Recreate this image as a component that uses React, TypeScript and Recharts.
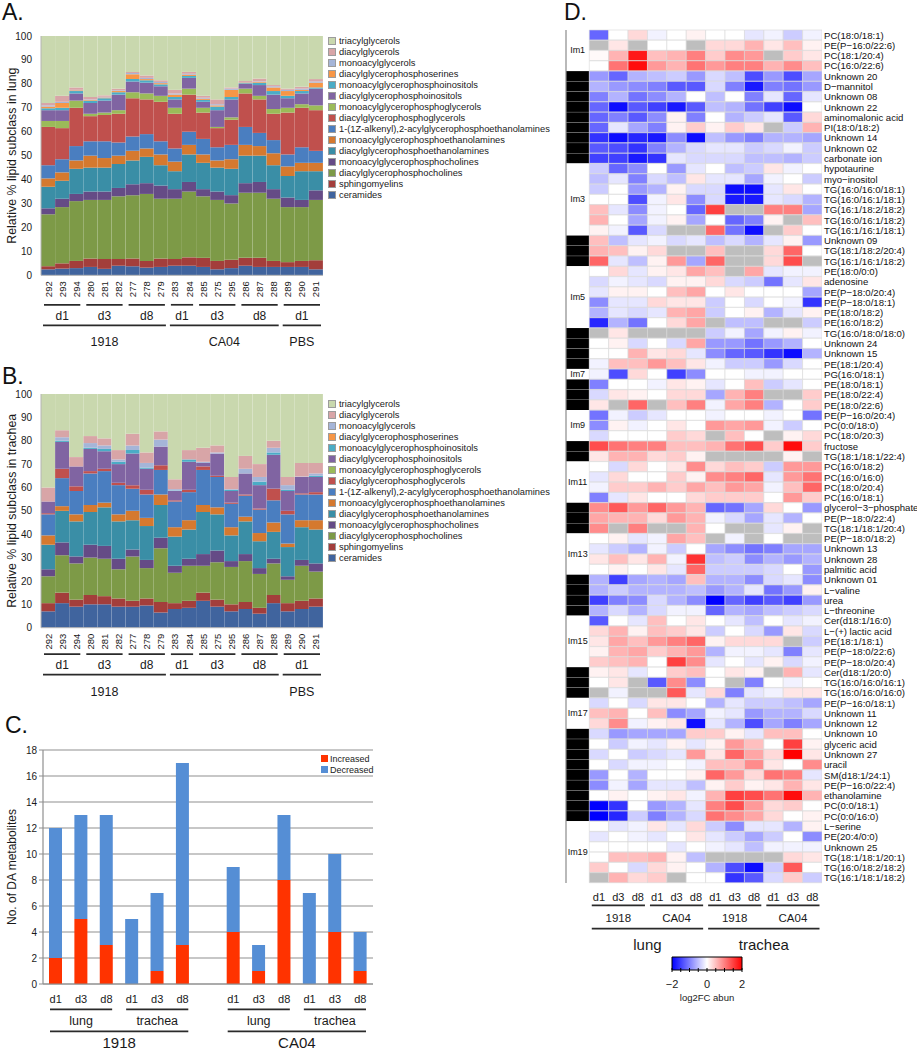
import React from 'react';
import { BarChart, Bar, XAxis, YAxis, CartesianGrid, Legend, Cell, LabelList, ReferenceLine, Label } from 'recharts';

const FONT = '"Liberation Sans", Arial, Helvetica, sans-serif';
const INK = '#1a1a1a';
const N = null;

// ---------- A / B : lipid subclass composition ----------
const samples = ['292', '293', '294', '280', '281', '282', '277', '278', '279', '283', '284', '285', '275', '295', '286', '287', '288', '289', '290', '291'];
const dayGroups = [
  { label: 'd1', from: 0, to: 3 }, { label: 'd3', from: 3, to: 6 }, { label: 'd8', from: 6, to: 9 },
  { label: 'd1', from: 9, to: 11 }, { label: 'd3', from: 11, to: 14 }, { label: 'd8', from: 14, to: 17 },
  { label: 'd1', from: 17, to: 20 },
];
const strainGroupsLung = [{ label: '1918', from: 0, to: 9 }, { label: 'CA04', from: 9, to: 17 }, { label: 'PBS', from: 17, to: 20 }];
const strainGroupsTrachea = [{ label: '1918', from: 0, to: 9 }, { label: '', from: 9, to: 17 }, { label: 'PBS', from: 17, to: 20 }];

// stacked bottom-up
const subclassNames = [
  'ceramides', 'sphingomyelins', 'diacylglycerophosphocholines', 'monoacylglycerophosphocholines',
  'diacylglycerophosphoethanolamines', 'monoacylglycerophosphoethanolamines',
  '1-(1Z-alkenyl),2-acylglycerophosphoethanolamines', 'diacylglycerophosphoglycerols',
  'monoacylglycerophosphoglycerols', 'diacylglycerophosphoinositols', 'monoacylglycerophosphoinositols',
  'diacylglycerophosphoserines', 'monoacylglycerols', 'diacylglycerols', 'triacylglycerols',
];
const subclassColors = [
  '#40649e', '#a33e3b', '#7d9a47', '#654b86', '#3a8ea6', '#d5792f', '#4a7ec0', '#c0504d',
  '#9bbb59', '#8064a2', '#4bacc6', '#f79646', '#a5b5d8', '#d8a5a7', '#c9d8ae',
];

const lungCER = [2.5, 2.8, 3, 3.5, 2.7, 4, 3.8, 3.2, 3.5, 4, 4, 3.5, 2.5, 3, 4, 3.5, 3.5, 3.5, 3.5, 2.5];
const lungSM = [1.3, 2.2, 3, 3.5, 4.1, 2.8, 3.2, 2.8, 3.5, 2.8, 3.5, 3.8, 3.5, 3.5, 3.3, 3.8, 2.5, 2, 2.5, 3.8];
const lungPC = [21.7, 23.5, 25, 24.5, 24.7, 26.2, 26.5, 28, 25, 25.2, 27.5, 25.7, 25.5, 23.5, 27.2, 27.2, 26, 23, 22.5, 25.2];
const lungLPC = [2.5, 3.5, 3, 3.5, 3.5, 3.5, 4.5, 4.5, 5.5, 4, 4, 3, 3.5, 3.5, 4, 4.5, 4, 4, 3, 4];
const lungPE = [9, 7.5, 10.5, 10, 10, 10, 10, 11, 8.5, 7.5, 11.5, 11, 10, 11, 11.5, 11, 10, 9, 12, 8];
const lungLPE = [3.5, 3.5, 3.5, 5, 4, 3.5, 4, 3.5, 4.5, 4, 4, 3.5, 3, 4, 4.5, 4, 5, 4, 3.5, 3.5];
const lungPEP = [5.5, 5.5, 6, 6, 7, 5.5, 6, 6, 5.5, 5.5, 5.5, 6.5, 5.5, 6, 7.5, 5.5, 5.5, 5, 6.5, 5];
const lungPG = [16, 13, 16, 10.5, 11, 12, 16, 14.5, 16.5, 14.5, 15.5, 11, 8, 10.5, 14, 14, 11, 17.5, 16.5, 17];
const lungLPG = [2.5, 3, 3, 1, 1, 1.5, 2.5, 2.5, 2.5, 2.5, 2.5, 2, 0.5, 1, 2, 1.5, 2, 2, 1.5, 2];
const lungPI = [4.5, 4.5, 3, 4.5, 5, 6.5, 4.5, 4.5, 4, 3.5, 4.5, 2.5, 7, 7.5, 2, 4.5, 6, 4, 4.5, 7];
const lungLPI = [0.8, 1, 1, 1, 1, 1, 1, 1, 0.8, 1, 0.8, 0.8, 1.5, 1, 0.3, 1, 1.5, 1, 1, 0.5];
const lungPS = [0.7, 2, 0.3, 0.3, 0.3, 0.5, 2, 0.5, 0.5, 1, 0.5, 0.5, 0.5, 3, 0.3, 0.3, 1.5, 2, 0.5, 2];
const lungMG = [0.5, 0.5, 0.2, 0.2, 0.3, 0.3, 0.5, 0.5, 0.5, 0.5, 0.4, 0.4, 0.5, 0.5, 0.2, 0.2, 0.5, 0.5, 0.5, 0.5];
const lungDG = [1, 2.5, 1, 1, 0.6, 0.7, 0.5, 1, 0.7, 1.5, 0.8, 0.8, 2, 0.5, 0.4, 1.2, 0.5, 0.5, 0.8, 1];
const lungTG = [28, 25, 21.5, 25.5, 24.8, 22, 15, 16.5, 18.5, 22.5, 15, 25, 26.5, 21.5, 18.8, 17.8, 20.5, 22, 21.2, 18];

const trCER = [7, 10.5, 9, 10, 10, 9, 9, 9.5, 6.5, 8, 8.5, 11.5, 9, 7, 8, 6, 10.5, 7, 8, 9];
const trSM = [3.5, 4.5, 3, 4, 3.5, 3.5, 2.5, 3, 4.5, 2.5, 3, 3.5, 3, 3, 3, 2.5, 3.5, 3.5, 3.5, 3.5];
const trPC = [11.5, 16, 15.5, 16, 16, 12.5, 19, 13, 23, 13, 15, 11.5, 16, 16, 17.5, 14.5, 13.5, 10, 15, 11.5];
const trLPC = [3, 5.5, 3, 5.5, 5.5, 4.5, 3, 3.5, 4.5, 3, 3, 5, 5, 2.5, 3, 2.5, 2, 1.5, 2.5, 3.5];
const trPE = [10.5, 13.5, 15, 14, 16.5, 16, 12.5, 14.5, 14, 12.5, 12.5, 18, 15.5, 11, 14, 11.5, 11.5, 12.5, 14, 14.5];
const trLPE = [4, 2, 3, 3, 2, 3, 4, 3.5, 4.5, 4, 4, 3, 3, 3.5, 2, 3.5, 4, 1.5, 3, 4];
const trPEP = [9, 12, 10, 13.5, 13.5, 12.5, 9.5, 10, 10.5, 11, 12, 15, 13, 10, 9, 10, 9.5, 12.5, 11, 11];
const trPG = [0.5, 4, 2, 1, 1, 1, 1.5, 2, 2, 0.5, 1, 1.5, 0.5, 0.5, 0.5, 0.5, 5, 1.5, 0.5, 1];
const trLPG = [0, 0, 0, 0, 0, 0, 0, 0, 0, 0, 0, 0, 0, 0, 0, 0, 0, 0, 0, 0];
const trPI = [5, 11.5, 8.5, 9.5, 7.5, 8, 13.5, 9, 8, 4, 12, 1.5, 9.5, 5, 9, 10, 14.5, 8.5, 7, 6.5];
const trLPI = [0, 0.5, 0, 0.5, 1, 1, 1.5, 0.5, 0, 0.2, 1, 0, 0, 0.5, 0, 1.5, 1, 0.5, 0, 0.5];
const trPS = [0, 0, 0, 0, 0, 0, 0, 0, 0, 0, 0, 0, 0, 0, 0, 0, 0, 0, 0, 0];
const trMG = [0, 1.5, 0, 2, 1.5, 1, 2, 2, 3, 0.6, 0, 0.5, 0.5, 0.3, 2, 2, 2, 2, 0.2, 1];
const trDG = [6, 3, 4, 3, 3, 4, 5, 4.5, 3.5, 4.2, 4, 6, 3, 5.2, 5.5, 5.5, 3, 3.5, 5.8, 4.5];
const trTG = [40, 15.5, 27, 18, 19, 24, 17, 25, 16, 36.5, 24, 23, 22, 35.5, 26.5, 30, 20, 35.5, 29.5, 29.5];

const lungSeries = [lungCER, lungSM, lungPC, lungLPC, lungPE, lungLPE, lungPEP, lungPG, lungLPG, lungPI, lungLPI, lungPS, lungMG, lungDG, lungTG];
const tracheaSeries = [trCER, trSM, trPC, trLPC, trPE, trLPE, trPEP, trPG, trLPG, trPI, trLPI, trPS, trMG, trDG, trTG];
const pctTicks = [0, 10, 20, 30, 40, 50, 60, 70, 80, 90, 100];

// ---------- C : number of DA metabolites ----------
const cIds = ['l18d1', 'l18d3', 'l18d8', 't18d1', 't18d3', 't18d8', 'gap', 'lcad1', 'lcad3', 'lcad8', 'tcad1', 'tcad3', 'tcad8'];
const cDays = ['d1', 'd3', 'd8', 'd1', 'd3', 'd8', '', 'd1', 'd3', 'd8', 'd1', 'd3', 'd8'];
const increased = [2, 5, 3, 0, 1, 3, null, 4, 1, 8, 0, 4, 1];
const decreased = [10, 8, 10, 5, 6, 14, null, 5, 2, 5, 7, 6, 3];
const cTissue = [{ label: 'lung', from: 0, to: 3 }, { label: 'trachea', from: 3, to: 6 }, { label: 'lung', from: 7, to: 10 }, { label: 'trachea', from: 10, to: 13 }];
const cStrain = [{ label: '1918', from: 0, to: 6 }, { label: 'CA04', from: 7, to: 13 }];
const countTicks = [0, 2, 4, 6, 8, 10, 12, 14, 16, 18];

// ---------- D : heatmap of log2FC ----------
const hmDays = ['d1', 'd3', 'd8', 'd1', 'd3', 'd8', 'd1', 'd3', 'd8', 'd1', 'd3', 'd8'];
const hmStrain = [{ label: '1918', from: 0, to: 3 }, { label: 'CA04', from: 3, to: 6 }, { label: '1918', from: 6, to: 9 }, { label: 'CA04', from: 9, to: 12 }];
const hmTissue = [{ label: 'lung', from: 0, to: 6 }, { label: 'trachea', from: 6, to: 12 }];
const moduleSizes = [4, 9, 7, 3, 6, 4, 1, 3, 3, 2, 4, 3, 4, 4, 5, 3, 3, 9, 6];
const moduleLabels = ['Im1', '', 'Im3', '', 'Im5', '', 'Im7', '', 'Im9', '', 'Im11', '', 'Im13', '', 'Im15', '', 'Im17', '', 'Im19'];

const hmNames = [
  'PC(18:0/18:1)', 'PE(P\u221216:0/22:6)', 'PC(18:1/20:4)', 'PC(16:0/22:6)',
  'Unknown 20', 'D\u2212mannitol', 'Unknown 08', 'Unknown 22', 'aminomalonic acid', 'PI(18:0/18:2)', 'Unknown 14', 'Unknown 02', 'carbonate ion',
  'hypotaurine', 'myo\u2212inositol', 'TG(16:0/16:0/18:1)', 'TG(16:0/16:1/18:1)', 'TG(16:1/18:2/18:2)', 'TG(16:0/16:1/18:2)', 'TG(16:1/16:1/18:1)',
  'Unknown 09', 'TG(18:1/18:2/20:4)', 'TG(16:1/16:1/18:2)',
  'PE(18:0/0:0)', 'adenosine', 'PE(P\u221218:0/20:4)', 'PE(P\u221218:0/18:1)', 'PE(18:0/18:2)', 'PE(16:0/18:2)',
  'TG(16:0/18:0/18:0)', 'Unknown 24', 'Unknown 15', 'PE(18:1/20:4)',
  'PG(16:0/18:1)',
  'PE(18:0/18:1)', 'PE(18:0/22:4)', 'PE(18:0/22:6)',
  'PE(P\u221216:0/20:4)', 'PC(0:0/18:0)', 'PC(18:0/20:3)',
  'fructose', 'TG(18:1/18:1/22:4)',
  'PC(16:0/18:2)', 'PC(16:0/16:0)', 'PC(18:0/20:4)', 'PC(16:0/18:1)',
  'glycerol\u22123\u2212phosphate', 'PE(P\u221218:0/22:4)', 'TG(18:1/18:1/20:4)',
  'PE(P\u221218:0/18:2)', 'Unknown 13', 'Unknown 28', 'palmitic acid',
  'Unknown 01', 'L\u2212valine', 'urea', 'L\u2212threonine',
  'Cer(d18:1/16:0)', 'L\u2212(+) lactic acid', 'PE(18:1/18:1)', 'PE(P\u221218:0/22:6)', 'PE(P\u221218:0/20:4)',
  'Cer(d18:1/20:0)', 'TG(16:0/16:0/16:1)', 'TG(16:0/16:0/16:0)',
  'PE(P\u221216:0/18:1)', 'Unknown 11', 'Unknown 12',
  'Unknown 10', 'glyceric acid', 'Unknown 27', 'uracil', 'SM(d18:1/24:1)', 'PE(P\u221216:0/22:4)', 'ethanolamine', 'PC(0:0/18:1)', 'PC(0:0/16:0)',
  'L\u2212serine', 'PE(20:4/0:0)', 'Unknown 25', 'TG(18:1/18:1/20:1)', 'TG(16:0/18:2/18:2)', 'TG(16:1/18:1/18:2)',
];

// columns: lung 1918 d1 d3 d8, lung CA04 d1 d3 d8, trachea 1918 d1 d3 d8, trachea CA04 d1 d3 d8
const hmValues = [
  [-1.2, 0, 0.3, -0.1, 0, 0.1, 0, 0, -0.2, -0.1, -0.4, -0.1],
  [N, 0.2, N, 0, 0, N, 0.3, 0.3, 0.6, 0.2, 0.5, 0.1],
  [0.05, 0.6, 1.8, 0.5, 0.6, 1.0, 0.4, 0.9, 0.8, N, 0.4, 0.2],
  [0, 1.1, 1.9, 0.8, 0.6, 1.1, 0.8, 1.0, 1.0, 0.6, 0.9, 0.5],
  [-0.8, -1.2, -0.6, -0.5, -0.4, -0.8, -0.3, -0.5, -1.4, -0.8, -1.4, -0.7],
  [-0.6, -0.8, -0.9, -1.0, -1.3, -1.3, -0.3, -1.0, -1.8, -1.0, -1.1, -0.8],
  [-1.0, -0.6, -1.1, -0.9, -0.6, 0, -0.5, 0, -1.0, -0.2, -1.2, -0.2],
  [-1.2, -1.9, -1.3, -1.5, -1.8, -1.3, -0.5, -0.6, -1.1, -1.5, -1.9, 0],
  [-1.2, -1.0, -1.3, -0.9, 0.1, -1.0, 0, -0.6, -0.4, -0.2, -1.3, 0.3],
  [-1.2, -0.2, -0.7, -1.0, 0.1, 0.4, 0.1, 0.4, 0.2, N, -0.4, 0.6],
  [-1.6, -1.9, -1.7, -1.8, -0.9, -1.9, -0.5, -0.8, -1.0, -0.6, -0.6, -0.7],
  [-1.3, -1.4, -1.6, -1.0, -0.6, -0.3, -0.2, -0.2, -0.4, -0.3, -0.1, -0.4],
  [-1.5, -1.5, -1.8, -1.6, -0.2, -0.3, -0.3, -0.3, -0.5, -0.5, -0.6, -0.4],
  [-0.4, -1.2, -0.9, 0, -0.8, -0.2, 0, -0.5, -0.4, 0.2, -0.1, 0],
  [-0.5, -0.2, -1.0, -0.3, -0.5, 0.2, -0.2, -0.2, -0.7, -0.1, 0, -0.4],
  [-0.4, 0, -0.8, -0.6, 0.1, -0.3, -0.3, -1.9, -1.9, -0.2, 0.2, 0],
  [0, 0, -1.4, -0.1, 0.2, -0.9, -0.3, -1.8, -1.8, -0.2, -0.3, -0.6],
  [0.5, -0.2, -0.9, -0.1, 0, -1.2, 1.5, N, N, 1.0, 1.0, -0.7],
  [0.6, 0, -0.7, -0.1, 0.1, -0.7, 0, -1.2, -1.0, 0.1, N, 0.5],
  [0.1, -0.1, -1.3, -0.3, N, N, 1.2, -1.1, -1.9, N, 0.4, 0],
  [0.5, -0.5, -0.2, -0.1, -0.3, -0.2, -0.5, -0.3, -0.6, -0.2, 0.1, -0.8],
  [0.6, 0.5, 0.1, 0.3, N, N, 0.5, N, N, 0.3, 1.2, 0],
  [1.2, -0.2, -0.5, 0.1, 0.8, -0.7, 1.2, N, N, 0.3, 1.4, N],
  [0, 0.3, -0.2, 0.1, 0.2, 0.7, 0.5, N, 0.7, -0.2, -0.1, -0.1],
  [-0.3, -0.1, -0.2, -0.3, 0.1, 0.1, 0.3, -0.3, -0.4, -1.1, -0.2, 0.2],
  [-0.2, 0.1, 0.1, 0, 0.5, 0.7, 0, 0.2, 0, 0, 0, -0.7],
  [-0.9, -0.2, -0.2, 0.3, 0.2, 0.2, -0.4, 0, -0.3, 0, -0.1, -1.6],
  [-0.6, -0.2, -0.3, -0.2, 0.6, 0.7, -0.4, 0, 0.1, -0.6, -0.2, 0.1],
  [-1.7, -0.6, -1.1, 0, 0.3, 0.7, N, -0.5, -0.5, N, N, -0.4],
  [N, 0.2, N, N, N, N, -0.4, -0.1, -0.7, -0.1, 0.1, -0.1],
  [0, 0.1, -0.3, 0, -0.3, 0.7, -0.8, -0.8, -1.1, -0.8, -0.6, 0],
  [0, 0, 0.6, 0.2, 0.3, -0.2, -0.9, -1.2, -1.3, -1.6, -1.9, -0.6],
  [-0.1, 0.5, 0.5, 0.8, 0.5, 0.2, -0.1, -0.4, -0.4, -0.8, -0.3, 0],
  [-0.1, -1.4, 0.3, 0, -1.5, -0.9, 0, 0, -0.1, -0.1, 0, 0],
  [-1.0, 0, 0, -0.1, 0.2, 0.1, -0.2, 0, 0.5, -0.4, -0.2, 0],
  [-0.3, 0.2, 0.1, 0, 0.3, 0.3, -0.7, 0.6, 1.0, N, N, 0.4],
  [0.2, N, 1.2, N, 0.5, 1.0, -0.1, 0.7, 1.0, -0.6, 0, 0.4],
  [-1.1, -0.1, -0.4, -0.2, 0, 0, -0.1, 0, 0, -0.1, 0, -1.1],
  [-0.9, 0.1, -0.1, 0, 0.2, 0, 0.8, 0.7, 0.8, -0.1, -0.4, 0],
  [-0.3, 0, 0, 0, 0.4, 0.3, N, 0.5, 0, N, 0.1, 0.3],
  [1.4, 1.1, 1.0, 1.0, 0.5, 0.5, 0.6, 1.1, 1.4, 0.4, 1.9, 0.4],
  [0.2, 0.6, 0.6, 0.3, 0.4, 0.1, N, N, N, N, 0.1, N],
  [0, -0.3, 0.3, 0, 0.2, 0.9, 0.3, 0.5, 0.4, -0.4, 0.8, 0.8],
  [-0.2, 0.3, 0, 0, 0.4, 0.1, 0.9, 1.0, 1.2, -0.2, 0.8, 1.1],
  [-0.1, 0.4, 0.4, 0.6, 0.4, 0.7, 0.5, 0.8, 0.7, -0.1, 0.5, 1.2],
  [-1.0, -0.2, 0.2, 0, 0, 0.3, 0.4, 0.4, 0.4, 0, 0.8, 0.4],
  [0.9, 1.3, 0.8, 1.2, 0.8, 0.6, -1.2, -1.1, -0.7, 0.3, 0, -0.8],
  [0.7, 0.6, 0.6, 0.3, 0.8, 0.6, -0.1, -0.3, -0.7, -0.2, -0.6, 0],
  [0.9, N, 1.0, N, N, 0.6, 0, N, N, -0.2, 0.1, N],
  [0, 0.1, -0.2, -0.1, 0.7, 0.5, N, -0.1, N, 0, N, N],
  [-0.2, -0.4, -0.6, -0.1, -0.4, 0, -0.7, -0.9, -1.1, -1.0, -0.7, -0.7],
  [0.2, 0.5, 0.2, 0.6, -0.1, 1.6, -0.5, -0.4, -0.9, -0.6, -0.8, -0.6],
  [0, 0.1, 0, 0.2, -0.2, 1.2, -0.4, -0.4, -0.4, -0.3, 0, -0.8],
  [-0.6, -1.5, -0.7, -0.6, -0.7, 0.5, -0.6, -0.6, -0.9, -0.3, -0.2, -0.9],
  [-0.6, -0.4, -0.6, -0.6, -0.6, -0.5, -0.8, -0.6, -0.2, -1.1, -0.8, 0.1],
  [-1.5, -1.0, -0.9, -0.3, -0.6, -0.9, -2.0, -1.2, -1.5, -1.3, -1.5, -0.8],
  [-0.6, -0.3, -0.6, -0.3, -0.1, -0.1, -1.2, -0.6, -0.7, -0.5, -0.4, -0.3],
  [-1.3, 0, -0.2, 0.5, 0, 0.2, 0, -0.2, -0.5, 0, -0.2, -0.1],
  [0.3, 0.6, 0.1, 0.5, 0.4, 0.2, -0.4, 0, -0.3, -0.8, 0.2, -0.3],
  [0.2, 0.7, 0.5, 0.8, 1.0, 1.2, 0.1, 0.3, 0.3, 0.3, N, -0.4],
  [0.1, 0.6, 0.7, 0.4, 0.6, 0.8, -0.6, -0.1, -0.1, -0.2, -1.0, -0.2],
  [0.4, 0.5, 0.6, 0, 1.5, 0.9, -0.2, 0, -0.2, 0.1, -0.3, -0.1],
  [0.1, 0.2, -0.2, 0, 0.4, 0.5, 0, 0.2, 0.1, N, 0.6, -0.2],
  [0, 0.2, N, -1.3, 0.9, -0.9, 0, N, -1.0, 0, -0.1, 0],
  [N, -0.1, N, N, 1.3, -0.2, 0.3, -1.0, -0.2, -0.1, 0.2, 0.2],
  [-0.3, 0, -0.3, 0.2, 0.2, 0, -0.6, -0.2, -0.4, -0.4, -0.5, -0.7],
  [0.5, 0.6, 0, 0.5, -0.9, -0.7, -0.1, -0.2, -0.8, -0.6, -0.6, -0.3],
  [0.3, 0.9, -0.1, 0.1, 0.2, -1.9, -0.2, -0.6, -1.4, -0.7, -1.0, -0.7],
  [-0.3, -0.8, -0.7, -0.7, -0.7, 0.4, 0.4, 0.1, -0.2, 0.5, 0.5, 0],
  [0, -0.4, -0.1, -0.2, 0.1, -0.2, 0.1, 0.8, 0.5, 0, 1.5, 0.1],
  [-0.3, 0, -0.4, -0.3, -0.2, 0.8, 0.2, 1.2, 0.7, 0.3, 2.0, 0.2],
  [0, -0.3, -0.1, -0.1, 0, -0.1, 0.5, 0.5, 0.9, 0.2, 0, 0.9],
  [-0.8, 0, -0.6, 0, 0, 0.1, 1.2, 0.8, 0.3, 1.1, 1.0, -0.2],
  [-0.9, -0.1, -0.7, -0.2, -0.2, -0.5, 0.1, 0.4, 0.1, 0.2, 0.6, 0.2],
  [0, 0.1, 0, 0.1, 0.2, -0.1, 0.6, 1.5, 1.4, 1.1, 1.9, 0.6],
  [-2.0, -1.6, 0, -0.8, -0.6, -0.2, 1.0, 1.4, 0.8, 0.3, 0.4, 0],
  [-2.0, -1.7, -0.4, -1.0, -0.6, -0.3, 1.1, 0.9, 0.7, 0.3, 0, 0.1],
  [0, -0.2, -0.1, 0.2, -0.2, 0.3, -0.4, -0.9, -0.2, -0.2, -0.6, 0.1],
  [-0.2, 0, -0.1, -0.2, 0, 0.2, -0.2, -0.4, -0.7, -0.4, 0, -0.9],
  [0, 0, 0, 0, -0.2, 0, -0.1, -0.2, -0.5, -0.1, -0.1, -0.1],
  [0, 0.5, 0.5, 0.6, 0.1, -0.5, N, N, N, N, 0.3, 0.2],
  [0.4, 0, -0.3, 0.3, 0.1, 0, -0.6, -1.4, -1.9, -0.4, 1.3, 0],
  [N, 0.6, 0.3, 0.4, N, 0, 0, -1.6, -1.3, -0.3, 0.4, -0.4],
];
const colorbarTicks = [-2, -1.5, -1, -0.5, 0, 0.5, 1, 1.5, 2];

// ---------- helpers ----------
type Group = { label: string; from: number; to: number };
type TickOpts = { lineDy: number; textDy: number; size: number; pad: number };

// category axis: draw group line + label once, at the group's first band
const bandGroupTick = (groups: Group[], unit: number, o: TickOpts) => (props: any) => {
  const { x, y, index } = props;
  const g = groups.find((gr) => gr.from === index);
  if (!g) return <g />;
  const span = g.to - g.from;
  const cx = x + ((span - 1) / 2) * unit;
  const half = (span / 2) * unit - o.pad;
  return (
    <g>
      <line x1={cx - half} x2={cx + half} y1={y + o.lineDy} y2={y + o.lineDy} stroke="#2a2a2a" strokeWidth={1.7} />
      {g.label ? (
        <text x={cx} y={y + o.textDy} textAnchor="middle" fontSize={o.size} fill={INK} fontFamily={FONT}>{g.label}</text>
      ) : null}
    </g>
  );
};

// number axis: tick already sits at the group centre
const centerGroupTick = (groups: Group[], unit: number, o: TickOpts) => (props: any) => {
  const { x, y, index } = props;
  const g = groups[index];
  if (!g) return <g />;
  const half = ((g.to - g.from) / 2) * unit - o.pad;
  return (
    <g>
      <line x1={x - half} x2={x + half} y1={y + o.lineDy} y2={y + o.lineDy} stroke="#2a2a2a" strokeWidth={1.7} />
      <text x={x} y={y + o.textDy} textAnchor="middle" fontSize={o.size} fill={INK} fontFamily={FONT}>{g.label}</text>
    </g>
  );
};

const textTick = (labels: string[], dy: number, size: number) => (props: any) => (
  <text x={props.x} y={props.y + dy} textAnchor="middle" fontSize={size} fill={INK} fontFamily={FONT}>{labels[props.index]}</text>
);

const SampleTick = (props: any) => (
  <text transform={`translate(${props.x + 3.5},${props.y + 4}) rotate(-90)`} textAnchor="end" fontSize={9.5} fill={INK} fontFamily={FONT}>
    {props.payload.value}
  </text>
);

const RowNameTick = (props: any) => (
  <text x={props.x} y={props.y + 3.5} textAnchor="start" fontSize={9.6} fill="#111" fontFamily={FONT}>{props.payload.value}</text>
);

const PanelTitle = ({ text, left, top }: { text: string; left: number; top: number }) => (
  <div style={{ position: 'absolute', left, top, fontSize: 23, lineHeight: '18px', color: '#111', fontFamily: FONT }}>{text}</div>
);

const LipidLegend = () => (
  <div style={{ fontFamily: FONT, fontSize: 9.3, color: INK }}>
    {subclassNames.map((n, k) => ({ n, c: subclassColors[k] })).reverse().map(({ n, c }) => (
      <div key={n} style={{ display: 'flex', alignItems: 'center', height: 11.07, whiteSpace: 'nowrap' }}>
        <span style={{ display: 'inline-block', width: 6, height: 6, background: c, border: '1px solid #9c9c9c', marginRight: 3 }} />
        <span>{n}</span>
      </div>
    ))}
  </div>
);

const LIPID_UNIT = 282 / samples.length;

const LipidPanel = ({ series, yLabel, strains, top, plotH, sampleH, legendTop }: any) => {
  const rows = samples.map((s, i) => {
    const r: any = { sample: s };
    subclassNames.forEach((_, k) => { r[`s${k}`] = series[k][i]; });
    return r;
  });
  const height = 36 + plotH + sampleH + 20 + 26;
  return (
    <div style={{ position: 'absolute', left: 0, top }}>
      <BarChart width={550} height={height} data={rows} margin={{ top: 36, right: 227, bottom: 0, left: 0 }} barCategoryGap={0} barGap={0}>
        <YAxis domain={[0, 100]} ticks={pctTicks} interval={0} width={41} tickLine={false} tickMargin={3}
          axisLine={{ stroke: '#b5b5b5' }} tick={{ fontSize: 10, fill: INK, fontFamily: FONT }}>
          <Label value={yLabel} angle={-90} position="insideLeft" offset={12}
            style={{ textAnchor: 'middle', fontSize: 12.4, fill: INK, fontFamily: FONT }} />
        </YAxis>
        <XAxis dataKey="sample" interval={0} height={sampleH} tickSize={0} tickLine={false} axisLine={{ stroke: '#b5b5b5' }} tick={SampleTick} />
        <XAxis xAxisId="a1day" dataKey="sample" interval={0} height={20} tickSize={0} tickLine={false} axisLine={false}
          tick={bandGroupTick(dayGroups, LIPID_UNIT, { lineDy: 0.5, textDy: 15.3, size: 12, pad: 3 })} />
        <XAxis xAxisId="a2strain" dataKey="sample" interval={0} height={26} tickSize={0} tickLine={false} axisLine={false}
          tick={bandGroupTick(strains, LIPID_UNIT, { lineDy: 1, textDy: 22, size: 12.5, pad: 2 })} />
        <Legend layout="vertical" align="center" verticalAlign="middle"
          wrapperStyle={{ left: 328, top: legendTop, width: 'auto', height: 'auto' }} content={() => <LipidLegend />} />
        {subclassNames.map((n, k) => (
          <Bar key={n} dataKey={`s${k}`} name={n} stackId="lipid" fill={subclassColors[k]} isAnimationActive={false} />
        ))}
      </BarChart>
    </div>
  );
};

// ---------- C ----------
const cRows = cIds.map((id, i) => ({ id, increased: increased[i], decreased: decreased[i] }));
const C_UNIT = 330 / cIds.length;
const cLegendItems = [{ name: 'Increased', color: '#ff3300' }, { name: 'Decreased', color: '#558ed5' }];

const CountPanel = () => (
  <div style={{ position: 'absolute', left: 0, top: 740 }}>
    <BarChart width={380} height={310} data={cRows} margin={{ top: 10, right: 7, bottom: 0, left: 0 }} barSize={13}>
      <CartesianGrid vertical={false} stroke="#8f8f8f" strokeWidth={1.2} />
      <YAxis domain={[0, 18]} ticks={countTicks} interval={0} width={43} tickSize={4} tickMargin={2}
        tick={{ fontSize: 10, fill: INK, fontFamily: FONT }} axisLine={{ stroke: '#8f8f8f', strokeWidth: 1.2 }} tickLine={{ stroke: '#8f8f8f' }}>
        <Label value="No. of DA metabolites" angle={-90} position="insideLeft" offset={12}
          style={{ textAnchor: 'middle', fontSize: 12, fill: INK, fontFamily: FONT }} />
      </YAxis>
      <XAxis dataKey="id" interval={0} height={20} tickSize={0} tickLine={false} axisLine={{ stroke: '#8f8f8f', strokeWidth: 1.2 }}
        tick={textTick(cDays, 17, 11)} />
      <XAxis xAxisId="c1tissue" dataKey="id" interval={0} height={22} tickSize={0} tickLine={false} axisLine={false}
        tick={bandGroupTick(cTissue, C_UNIT, { lineDy: 3.3, textDy: 18.8, size: 12.5, pad: 7 })} />
      <XAxis xAxisId="c2strain" dataKey="id" interval={0} height={24} tickSize={0} tickLine={false} axisLine={false}
        tick={bandGroupTick(cStrain, C_UNIT, { lineDy: 3.3, textDy: 19.5, size: 15, pad: 7 })} />
      <Legend layout="vertical" align="center" verticalAlign="middle"
        wrapperStyle={{ left: 321, top: 13, width: 'auto', height: 'auto' }}
        content={() => (
          <div style={{ fontFamily: FONT, fontSize: 9, color: INK }}>
            {cLegendItems.map((it) => (
              <div key={it.name} style={{ display: 'flex', alignItems: 'center', height: 11, whiteSpace: 'nowrap' }}>
                <span style={{ display: 'inline-block', width: 7, height: 7, background: it.color, marginRight: 2 }} />
                <span>{it.name}</span>
              </div>
            ))}
          </div>
        )} />
      <Bar dataKey="increased" name="Increased" stackId="c" fill="#ff3300" isAnimationActive={false} />
      <Bar dataKey="decreased" name="Decreased" stackId="c" fill="#558ed5" isAnimationActive={false} />
    </BarChart>
  </div>
);

// ---------- D ----------
const MODULE_W = 1.2;
const HM_SPAN = MODULE_W + hmDays.length;
const HM_UNIT = 256 / HM_SPAN;
const hmBlocks = (() => {
  let start = 0;
  return moduleSizes.map((n, k) => {
    const b = { label: moduleLabels[k], from: start, to: start + n };
    start += n;
    return b;
  });
})();
const blockOf = (i: number) => hmBlocks.find((b) => i >= b.from && i < b.to)!;
const hmRows = hmNames.map((name, i) => {
  const r: any = { name, module: MODULE_W };
  hmValues[i].forEach((_, j) => { r[`c${j}`] = 1; });
  return r;
});
const dayTicks = hmDays.map((_, j) => MODULE_W + j + 0.5);
const strainTicks = hmStrain.map((g) => MODULE_W + (g.from + g.to) / 2);
const tissueTicks = hmTissue.map((g) => MODULE_W + (g.from + g.to) / 2);

const fcColor = (v: number | null) => {
  if (v === null) return '#bebebe';
  const t = Math.min(1, Math.abs(v) / 2);
  const c = Math.round(255 * (1 - t));
  return v < 0 ? `rgb(${c},${c},255)` : `rgb(255,${c},${c})`;
};

const ModuleLabel = (props: any) => {
  const block = hmBlocks.find((b) => b.from === props.index);
  if (!block || !block.label) return null;
  const vb = props.viewBox && props.viewBox.height !== undefined ? props.viewBox : props;
  const cy = vb.y + ((block.to - block.from) * vb.height) / 2;
  return (
    <text x={vb.x + vb.width / 2} y={cy + 3.2} textAnchor="middle" fontSize={9} fill="#111" fontFamily={FONT}>{block.label}</text>
  );
};

const ColorbarTick = (props: any) => {
  const { x, y, payload } = props;
  const v = payload.value;
  const major = v === -2 || v === 0 || v === 2;
  return (
    <g>
      <line x1={x} x2={x} y1={y} y2={y - 4} stroke="#000" strokeWidth={1} />
      {major ? (
        <text x={x} y={y + 16} textAnchor="middle" fontSize={11} fill={INK} fontFamily={FONT}>{v < 0 ? `\u2212${Math.abs(v)}` : v}</text>
      ) : null}
    </g>
  );
};

const HeatmapPanel = () => (
  <>
    <div style={{ position: 'absolute', left: 556, top: 20 }}>
      <BarChart width={361} height={935} layout="vertical" data={hmRows} margin={{ top: 10, right: 0, bottom: 0, left: 10 }} barCategoryGap={0} barGap={0}>
        <XAxis xAxisId="d1day" type="number" domain={[0, HM_SPAN]} allowDataOverflow ticks={dayTicks} interval={0} height={20}
          tickSize={0} tickLine={false} axisLine={false} tick={textTick(hmDays, 15.9, 11)} />
        <XAxis xAxisId="d2strain" type="number" domain={[0, HM_SPAN]} allowDataOverflow ticks={strainTicks} interval={0} height={22}
          tickSize={0} tickLine={false} axisLine={false} tick={centerGroupTick(hmStrain, HM_UNIT, { lineDy: 0.3, textDy: 16.7, size: 11.5, pad: 2.5 })} />
        <XAxis xAxisId="d3tissue" type="number" domain={[0, HM_SPAN]} allowDataOverflow ticks={tissueTicks} interval={0} height={30}
          tickSize={0} tickLine={false} axisLine={false} tick={centerGroupTick(hmTissue, HM_UNIT, { lineDy: 1.7, textDy: 23, size: 15, pad: 2.5 })} />
        <YAxis type="category" dataKey="name" orientation="right" width={95} interval={0} tickSize={0} tickMargin={2}
          axisLine={false} tickLine={false} tick={RowNameTick} />
        <Bar xAxisId="d1day" dataKey="module" stackId="hm" isAnimationActive={false}>
          {hmRows.map((r, i) => <Cell key={r.name} fill={blockOf(i).label ? '#ffffff' : '#000000'} />)}
          <LabelList dataKey="name" content={ModuleLabel} />
        </Bar>
        {hmDays.map((_, j) => (
          <Bar key={`c${j}`} xAxisId="d1day" dataKey={`c${j}`} stackId="hm" stroke="#d6d6d6" strokeWidth={0.6} isAnimationActive={false}>
            {hmValues.map((row, i) => <Cell key={i} fill={fcColor(row[j])} />)}
          </Bar>
        ))}
        <ReferenceLine xAxisId="d1day" x={0} stroke="#8a8a8a" strokeWidth={1.2} />
      </BarChart>
    </div>
    <div style={{ position: 'absolute', left: 662, top: 947 }}>
      <BarChart width={90} height={60} layout="vertical" data={[{ name: 'log2FC', range: [-2, 2] }]}
        margin={{ top: 10, right: 10, bottom: 0, left: 10 }} barCategoryGap={0}>
        <defs>
          <linearGradient id="log2fcGrad" x1="0" x2="1" y1="0" y2="0">
            <stop offset="0%" stopColor="#0000ff" />
            <stop offset="50%" stopColor="#ffffff" />
            <stop offset="100%" stopColor="#ff0000" />
          </linearGradient>
        </defs>
        <XAxis type="number" domain={[-2, 2]} ticks={colorbarTicks} interval={0} height={37} tickSize={0} tickLine={false} axisLine={false} tick={ColorbarTick}>
          <Label value="log2FC abun" position="insideBottom" offset={6} style={{ fontSize: 9.5, fill: INK, fontFamily: FONT }} />
        </XAxis>
        <YAxis type="category" dataKey="name" hide />
        <Bar dataKey="range" fill="url(#log2fcGrad)" stroke="#000" strokeWidth={1} isAnimationActive={false} />
      </BarChart>
    </div>
  </>
);

const App = () => (
  <div style={{ position: 'absolute', left: 0, top: 0, width: 917, height: 1050, background: '#fff', overflow: 'hidden', fontFamily: FONT }}>
    <LipidPanel series={lungSeries} yLabel="Relative % lipid subclass in lung" strains={strainGroupsLung}
      top={0} plotH={239.3} sampleH={27} legendTop={35} />
    <LipidPanel series={tracheaSeries} yLabel="Relative % lipid subclass in trachea" strains={strainGroupsTrachea}
      top={358} plotH={233.7} sampleH={24} legendTop={40} />
    <CountPanel />
    <HeatmapPanel />
    <PanelTitle text="A." left={2} top={3} />
    <PanelTitle text="B." left={2} top={367} />
    <PanelTitle text="C." left={5} top={716} />
    <PanelTitle text="D." left={564} top={3} />
  </div>
);

export default App;
